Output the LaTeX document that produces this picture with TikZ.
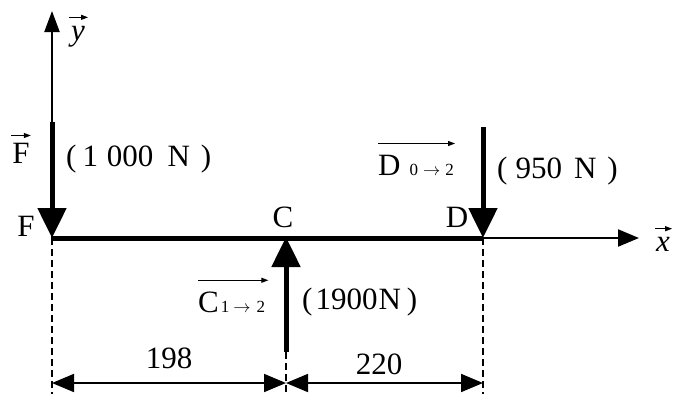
\documentclass[tikz,border=0pt]{standalone}
\usepackage{fontspec}
\setmainfont{Liberation Serif}
\usetikzlibrary{arrows.meta}
\newcommand\sbs[1]{{\fontsize{17}{17}\selectfont #1}}
\newcommand\sarr{$\rightarrow$}
\begin{document}
\begin{tikzpicture}[x=1pt,y=-1pt,
  lbl/.style={font=\fontsize{31}{35}\selectfont, inner sep=0pt},
  axlbl/.style={font=\fontsize{31}{35}\selectfont\itshape, inner sep=0pt},
  axis/.style={line width=2.2pt},
  force/.style={line width=5pt,-{Triangle[length=30pt,width=28pt]}},
  dimline/.style={line width=1.6pt,dash pattern=on 7pt off 4pt},
  dimarrow/.style={line width=1.8pt,{Triangle[length=22pt,width=18pt]}-{Triangle[length=22pt,width=18pt]}},
  vecarr/.style={line width=1pt,-{Triangle[length=7pt,width=5pt]}}]
\useasboundingbox (0,0) rectangle (678,394);
% points
\coordinate (F) at (52,238);
\coordinate (C) at (286,238);
\coordinate (D) at (483,238);
\coordinate (ytip) at (52,11);
\coordinate (xtip) at (639,238);
\coordinate (Ftop) at (52,122);
\coordinate (Cbot) at (286,352);
\coordinate (Dtop) at (483,127);
\coordinate (Fdim) at (52,394);
\coordinate (Cdim) at (286,394);
\coordinate (Ddim) at (483,394);
\coordinate (d1) at (52,383);
\coordinate (d2) at (286,383);
\coordinate (d3) at (483,383);
% axes
\draw[axis,-{Triangle[length=21pt,width=15pt]}] (F) -- (ytip);
\draw[line width=5pt] (F) -- (D);
\draw[axis,-{Triangle[length=21pt,width=17pt]}] (D) -- (xtip);
% forces
\draw[force] (Ftop) -- (F);
\draw[force] (Cbot) -- ([yshift=1pt]C);
\draw[force] (Dtop) -- (D);
% dashed
\draw[dimline] (F) -- (Fdim);
\draw[dimline] (Cbot) -- (Cdim);
\draw[dimline] (D) -- (Ddim);
% dimensions
\draw[dimarrow] (d1) -- (d2);
\draw[dimarrow] (d2) -- (d3);
% labels
\node[axlbl] (ylab) at (78,37) {y};
\draw[vecarr] ([xshift=-2pt,yshift=9pt]ylab.north west) -- ([xshift=3pt,yshift=9pt]ylab.north east);
\node[axlbl] (xlab) at (663,244) {x};
\draw[vecarr] ([xshift=-1pt,yshift=8pt]xlab.north west) -- ([xshift=2pt,yshift=8pt]xlab.north east);
\node[lbl,anchor=base] (Fvec) at (21,163) {F};
\draw[vecarr] ([xshift=-1pt,yshift=7pt]Fvec.north west) -- ([xshift=1pt,yshift=7pt]Fvec.north east);
\node[lbl,anchor=base] (Fpt) at (26,236) {F};
\node[lbl,anchor=base west] (Fval) at (66,166) {(\hspace{6pt}1\hspace{9pt}000\hspace{14pt}N\hspace{11pt})};
\node[lbl,anchor=base] (Cpt) at (283,227) {C};
\node[lbl,anchor=base] (Dpt) at (457,227) {D};
\node[lbl,anchor=base west] (Dvec) at (378,175) {D\hspace{9pt}\sbs{0\hspace{5pt}\sarr\hspace{5pt}2}};
\draw[vecarr] ([yshift=11pt]Dvec.north west) -- ([xshift=1pt,yshift=11pt]Dvec.north east);
\node[lbl,anchor=base west] (Dval) at (497,178) {(\hspace{8pt}950\hspace{12pt}N\hspace{11pt})};
\node[lbl,anchor=base west] (Cvec) at (198,312) {C\hspace{2pt}\sbs{1\hspace{4pt}\sarr\hspace{6pt}2}};
\draw[vecarr] ([yshift=11pt]Cvec.north west) -- ([xshift=3pt,yshift=11pt]Cvec.north east);
\node[lbl,anchor=base west] (Cval) at (302,309) {(\hspace{3pt}1900\hspace{1pt}N\hspace{6pt})};
\node[lbl] (d12) at (169,358) {198};
\node[lbl] (d23) at (379,364) {220};
\end{tikzpicture}
\end{document}
